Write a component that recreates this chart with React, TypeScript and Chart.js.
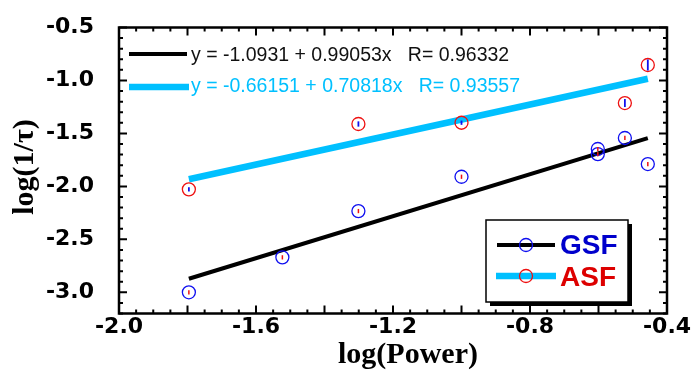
import React, { useEffect, useRef } from "react";
import { Chart, registerables } from "chart.js";

Chart.register(...registerables);

// ---- data ----
const gsfX = [-1.796, -1.523, -1.301, -1.0, -0.602, -0.602, -0.523, -0.456];
const gsfY = [-3.0, -2.67, -2.233, -1.909, -1.647, -1.695, -1.543, -1.789];
const gsfErr = [0.02, 0.02, 0.02, 0.02, 0.02, 0.02, 0.02, 0.02];

const asfX = [-1.796, -1.301, -1.0, -0.523, -0.456];
const asfY = [-2.028, -1.411, -1.399, -1.213, -0.854];
const asfErr = [0.02, 0.025, 0.02, 0.038, 0.052];

const fitX = [-1.796, -0.456];
const gsfFitY = [-2.872, -1.545];
const asfFitY = [-1.933, -0.984];

const xTickValues = [-2.0, -1.6, -1.2, -0.8, -0.4];
const yTickValues = [-3.0, -2.5, -2.0, -1.5, -1.0, -0.5];

const gsfFitText = "y = -1.0931 + 0.99053x   R= 0.96332";
const asfFitText = "y = -0.66151 + 0.70818x   R= 0.93557";
const xTitle = "log(Power)";
const yTitle = "log(1/\u03C4)";

const BLUE = "#1010F0";
const RED = "#EE1111";
const CYAN = "#00C0FF";

const decorPlugin = {
  id: "decor",
  afterDraw(chart: any) {
    const ctx = chart.ctx;
    const xs = chart.scales.x;
    const ys = chart.scales.y;
    const a = chart.chartArea;
    ctx.save();

    // error bars (small inner ticks)
    const bar = (xv: number[], yv: number[], ev: number[], color: string, w: number) => {
      ctx.strokeStyle = color;
      ctx.lineWidth = w;
      for (let i = 0; i < xv.length; i++) {
        const px = xs.getPixelForValue(xv[i]);
        ctx.beginPath();
        ctx.moveTo(px, ys.getPixelForValue(yv[i] - ev[i]));
        ctx.lineTo(px, ys.getPixelForValue(yv[i] + ev[i]));
        ctx.stroke();
      }
    };
    bar(gsfX, gsfY, gsfErr, RED, 1.5);
    bar(asfX, asfY, asfErr, BLUE, 1.8);

    // frame
    ctx.strokeStyle = "#000";
    ctx.lineWidth = 2.5;
    ctx.beginPath();
    ctx.moveTo(a.left, a.top);
    ctx.lineTo(a.right, a.top);
    ctx.lineTo(a.right, a.bottom);
    ctx.lineTo(a.left, a.bottom);
    ctx.closePath();
    ctx.stroke();

    // inward ticks
    ctx.lineWidth = 2;
    const xMin = xs.min, xMax = xs.max;
    const nx = Math.round((xMax - xMin) / 0.05);
    for (let i = 0; i <= nx; i++) {
      const v = xMin + i * 0.05;
      const px = xs.getPixelForValue(v);
      const major = Math.abs(Math.round(v / 0.2) * 0.2 - v) < 1e-6;
      const len = major ? 8 : 4;
      ctx.beginPath();
      ctx.moveTo(px, a.bottom);
      ctx.lineTo(px, a.bottom - len);
      ctx.moveTo(px, a.top);
      ctx.lineTo(px, a.top + len);
      ctx.stroke();
    }
    const yMin = ys.min, yMax = ys.max;
    const ny = Math.round((yMax - yMin) / 0.1);
    for (let i = 0; i <= ny; i++) {
      const v = yMin + i * 0.1;
      const py = ys.getPixelForValue(v);
      const major = Math.abs(Math.round(v / 0.5) * 0.5 - v) < 1e-6;
      const len = major ? 8 : 4;
      ctx.beginPath();
      ctx.moveTo(a.left, py);
      ctx.lineTo(a.left + len, py);
      ctx.moveTo(a.right, py);
      ctx.lineTo(a.right - len, py);
      ctx.stroke();
    }

    // fit legend (top-left)
    ctx.lineCap = "butt";
    ctx.strokeStyle = "#000";
    ctx.lineWidth = 4;
    ctx.beginPath();
    ctx.moveTo(129, 54);
    ctx.lineTo(187, 54);
    ctx.stroke();
    ctx.strokeStyle = CYAN;
    ctx.lineWidth = 6.5;
    ctx.beginPath();
    ctx.moveTo(129, 87);
    ctx.lineTo(189, 87);
    ctx.stroke();
    ctx.font = "19.5px 'Liberation Sans', Arial, sans-serif";
    ctx.textBaseline = "middle";
    ctx.textAlign = "left";
    ctx.fillStyle = "#111";
    ctx.fillText(gsfFitText, 191, 56);
    ctx.fillStyle = CYAN;
    ctx.fillText(asfFitText, 191, 87);

    // series legend box (bottom-right)
    const bx = 486, by = 220, bw = 142, bh = 82;
    ctx.fillStyle = "#000";
    ctx.fillRect(bx + 4, by + 4, bw, bh);
    ctx.fillStyle = "#fff";
    ctx.fillRect(bx, by, bw, bh);
    ctx.strokeStyle = "#000";
    ctx.lineWidth = 1.5;
    ctx.strokeRect(bx, by, bw, bh);

    ctx.lineWidth = 4;
    ctx.beginPath();
    ctx.moveTo(497, 245);
    ctx.lineTo(555, 245);
    ctx.stroke();
    ctx.strokeStyle = CYAN;
    ctx.lineWidth = 6.5;
    ctx.beginPath();
    ctx.moveTo(496, 276);
    ctx.lineTo(556, 276);
    ctx.stroke();
    ctx.lineWidth = 1.3;
    ctx.strokeStyle = BLUE;
    ctx.beginPath();
    ctx.arc(526, 245, 6.5, 0, Math.PI * 2);
    ctx.stroke();
    ctx.strokeStyle = RED;
    ctx.beginPath();
    ctx.arc(526, 276, 6.5, 0, Math.PI * 2);
    ctx.stroke();
    ctx.font = "bold 28px 'Liberation Sans', Arial, sans-serif";
    ctx.fillStyle = "#0000CC";
    ctx.fillText("GSF", 560, 246);
    ctx.fillStyle = "#DD0000";
    ctx.fillText("ASF", 560, 278);

    // axis titles
    ctx.fillStyle = "#000";
    ctx.font = "bold 30px 'Liberation Serif', 'Times New Roman', serif";
    ctx.textAlign = "center";
    ctx.fillText(xTitle, 408, 355);
    ctx.save();
    ctx.translate(25, 167);
    ctx.rotate(-Math.PI / 2);
    ctx.fillText(yTitle, 0, 0);
    ctx.restore();

    ctx.restore();
  },
};

export default function App() {
  const ref = useRef<HTMLCanvasElement | null>(null);
  useEffect(() => {
    document.body.style.margin = "0";
    const pts = (xs: number[], ys: number[]) => xs.map((x, i) => ({ x, y: ys[i] }));
    const zeroPad = (s: any) => {
      s.paddingTop = 0;
      s.paddingBottom = 0;
      s.paddingLeft = 0;
      s.paddingRight = 0;
    };
    const chart = new Chart(ref.current as HTMLCanvasElement, {
      type: "scatter",
      data: {
        datasets: [
          {
            label: "GSF",
            data: pts(gsfX, gsfY),
            borderColor: BLUE,
            backgroundColor: "rgba(0,0,0,0)",
            pointRadius: 6.5,
            pointBorderWidth: 1.3,
            order: 0,
          },
          {
            label: "ASF",
            data: pts(asfX, asfY),
            borderColor: RED,
            backgroundColor: "rgba(0,0,0,0)",
            pointRadius: 6.5,
            pointBorderWidth: 1.3,
            order: 0,
          },
          {
            type: "line",
            label: "GSF fit",
            data: pts(fitX, gsfFitY),
            borderColor: "#000",
            borderWidth: 4,
            pointRadius: 0,
            showLine: true,
            order: 1,
          } as any,
          {
            type: "line",
            label: "ASF fit",
            data: pts(fitX, asfFitY),
            borderColor: CYAN,
            borderWidth: 6.5,
            pointRadius: 0,
            showLine: true,
            order: 1,
          } as any,
        ],
      },
      options: {
        responsive: false,
        animation: false,
        layout: { padding: { top: 27.5, right: 25, left: 0, bottom: 0 } },
        plugins: { legend: { display: false }, tooltip: { enabled: false } },
        scales: {
          x: {
            type: "linear",
            min: -2.0,
            max: -0.4,
            grid: { display: false, drawTicks: false },
            border: { display: false },
            afterBuildTicks: (s: any) => {
              s.ticks = xTickValues.map((v) => ({ value: v }));
            },
            afterFit: (s: any) => {
              s.height = 58.5;
              zeroPad(s);
            },
            ticks: {
              padding: 1,
              maxRotation: 0,
              color: "#000",
              font: { family: "'DejaVu Sans', sans-serif", weight: "bold", size: 22 },
              callback: (v: any) => Number(v).toFixed(1),
            },
          },
          y: {
            type: "linear",
            min: -3.2,
            max: -0.5,
            grid: { display: false, drawTicks: false },
            border: { display: false },
            afterBuildTicks: (s: any) => {
              s.ticks = yTickValues.map((v) => ({ value: v }));
            },
            afterFit: (s: any) => {
              s.width = 119;
              zeroPad(s);
            },
            ticks: {
              padding: 25,
              color: "#000",
              font: { family: "'DejaVu Sans', sans-serif", weight: "bold", size: 22 },
              callback: (v: any) => Number(v).toFixed(1),
            },
          },
        },
      },
      plugins: [decorPlugin],
    });
    return () => chart.destroy();
  }, []);
  return (
    <div style={{ width: 692, height: 372, position: "relative", background: "#fff" }}>
      <canvas ref={ref} width={692} height={372} />
    </div>
  );
}
